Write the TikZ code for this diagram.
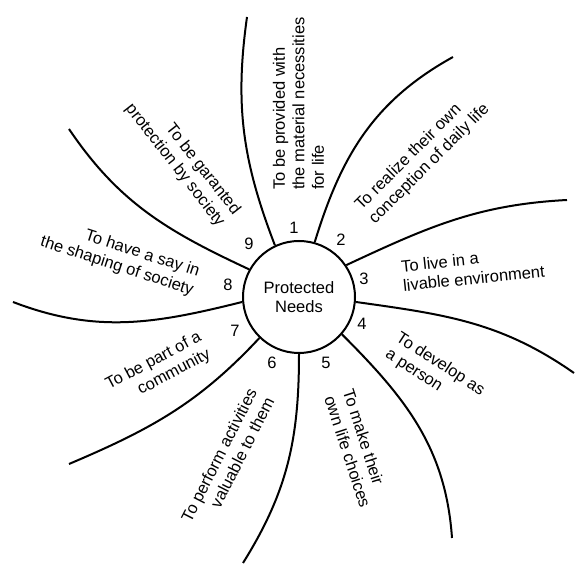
\documentclass[tikz,border=0pt]{standalone}
\usepackage{fontspec}
\setmainfont{Liberation Sans}
\usetikzlibrary{positioning}

\begin{document}
\begin{tikzpicture}[
  x=1pt, y=1pt,
  hub/.style={circle, minimum size=112pt, inner sep=0pt, draw=black, line width=2pt,
    align=center, font=\fontsize{16.5}{19}\selectfont},
  num/.style={inner sep=0pt, font=\fontsize{16.5}{19}\selectfont},
  needl/.style={inner sep=0pt, anchor=west, align=left, font=\fontsize{16.5}{19.5}\selectfont},
  needr/.style={inner sep=0pt, anchor=east, align=right, font=\fontsize{16.5}{19.5}\selectfont},
  petal/.style={line width=2pt}
]
\useasboundingbox (0,0) rectangle (576,564);

\node (needs) [hub] at (299,267) {Protected\\Needs};

\coordinate (e1) at (247,547);
\coordinate (e2) at (453,507);
\coordinate (e3) at (567,364);
\coordinate (e4) at (574,191);
\coordinate (e5) at (452,26);
\coordinate (e6) at (243,1);
\coordinate (e7) at (69,100);
\coordinate (e8) at (13,262);
\coordinate (e9) at (69,435);

\draw [petal] (needs.115) to[out=111, in=-98] (e1);
\draw [petal] (needs.74) to[out=73, in=209] (e2);
\draw [petal] (needs.34) to[out=25, in=183] (e3);
\draw [petal] (needs.-5) to[out=-8, in=145] (e4);
\draw [petal] (needs.-41) to[out=-45, in=94] (e5);
\draw [petal] (needs.-90) to[out=-90, in=58] (e6);
\draw [petal] (needs.226) to[out=227, in=23] (e7);
\draw [petal] (needs.185) to[out=194, in=-21] (e8);
\draw [petal] (needs.151) to[out=155, in=-56] (e9);

\node (n1) [num] at (294,336) {1};
\node (n2) [num] at (341,324) {2};
\node (n3) [num] at (364,285) {3};
\node (n4) [num] at (362,240) {4};
\node (n5) [num] at (326,201) {5};
\node (n6) [num] at (272,201) {6};
\node (n7) [num] at (235,233) {7};
\node (n8) [num] at (228,279) {8};
\node (n9) [num] at (249,320) {9};

\node (l1) [needl, rotate=90] at (298.5,374) {To be provided with\\the material necessities\\for life};
\node (l2) [needl, rotate=45] at (365,349) {To realize their own\\conception of daily life};
\node (l3) [needl, rotate=6] at (402,288) {To live in a\\livable environment};
\node (l4) [needl, rotate=-33] at (392,219) {To develop as\\a person};
\node (l5) [needl, rotate=-72] at (339,171) {To make their\\own life choices};
\node (l6) [needr, rotate=63] at (261,170) {To perform activities\\valuable to them};
\node (l7) [needr, rotate=28] at (205,219) {To be part of a\\community};
\node (l8) [needr, rotate=-18] at (196,282) {To have a say in\\the shaping of society};
\node (l9) [needr, rotate=-52] at (229,345) {To be garanted\\protection by society};

\end{tikzpicture}
\end{document}
